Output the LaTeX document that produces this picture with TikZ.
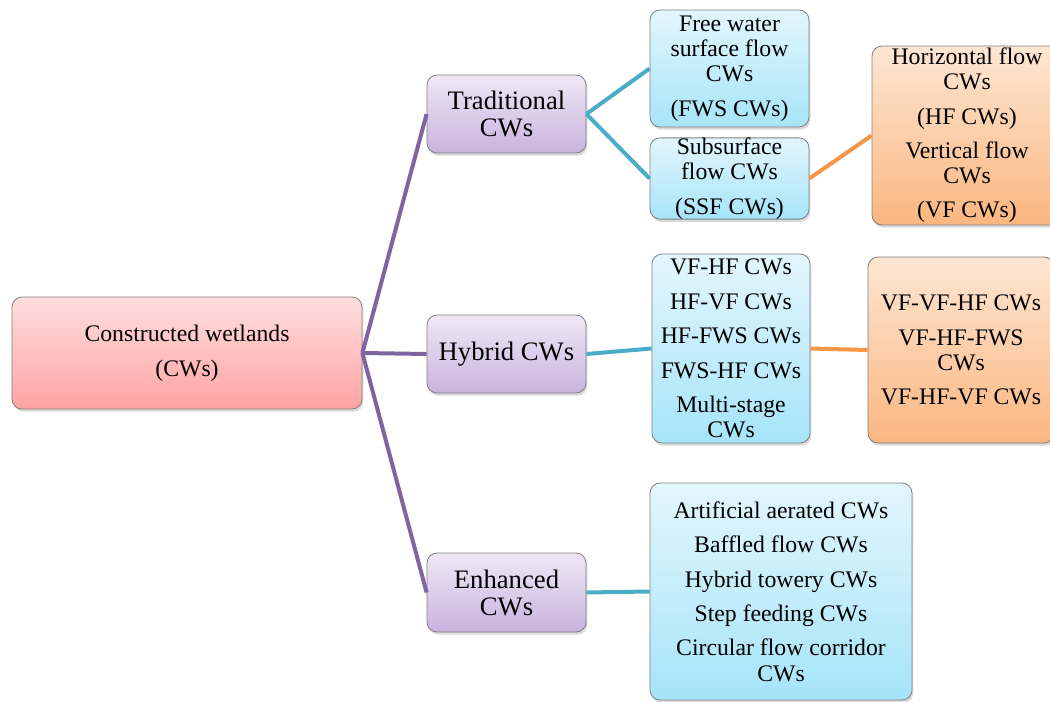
\documentclass[tikz,border=0pt]{standalone}
\usepackage{fontspec}
\setmainfont{Liberation Serif}
\usetikzlibrary{shadows}
\definecolor{purpline}{HTML}{8064A2}
\definecolor{tealline}{HTML}{4BACC6}
\definecolor{orgline}{HTML}{F79646}
\definecolor{purptop}{HTML}{EFE8F6}
\definecolor{purpbot}{HTML}{C9B3DE}
\definecolor{bluetop}{HTML}{E3F6FD}
\definecolor{bluebot}{HTML}{A6E4F9}
\definecolor{orgtop}{HTML}{FDE6D3}
\definecolor{orgbot}{HTML}{FBB680}
\tikzset{
  box/.style={draw=black!50, line width=0.6pt, rounded corners=7.5pt, inner sep=0pt,
    align=center, font=\fontsize{17.8}{18.8}\selectfont,
    drop shadow={opacity=0.3, shadow xshift=1pt, shadow yshift=-2pt}},
  redbox/.style={box, top color=red!13!white, bottom color=red!36!white},
  purpbox/.style={box, top color=purptop, bottom color=purpbot,
    font=\fontsize{20}{20.3}\selectfont},
  bluebox/.style={box, top color=bluetop, bottom color=bluebot},
  orgbox/.style={box, top color=orgtop, bottom color=orgbot},
  conn/.style={line width=3pt},
  purp/.style={conn, draw=purpline},
  teal/.style={conn, draw=tealline},
  org/.style={conn, draw=orgline},
}
\begin{document}
\begin{tikzpicture}[x=0.75pt, y=-0.75pt]
\useasboundingbox (0,0) rectangle (1050,702);
\node[redbox, minimum width=262.5pt, minimum height=84pt] (root) at (187,353)
  {Constructed wetlands\\[7.5pt](CWs)};
\node[purpbox, minimum width=119.25pt, minimum height=58.5pt] (trad) at (506.5,114)
  {Traditional\\CWs};
\node[purpbox, minimum width=119.25pt, minimum height=58.5pt] (hyb) at (506.5,354)
  {Hybrid CWs};
\node[purpbox, minimum width=119.25pt, minimum height=59.25pt] (enh) at (506.5,592.5)
  {Enhanced\\CWs};
\node[bluebox, minimum width=119.25pt, minimum height=87.75pt] (fws) at (729.5,68.5)
  {Free water\\surface flow\\CWs\\[7pt](FWS CWs)};
\node[bluebox, minimum width=119.25pt, minimum height=59.25pt] (ssf) at (729.5,178.5)
  {Subsurface\\flow CWs\\[7pt](SSF CWs)};
\node[orgbox, minimum width=142.5pt, minimum height=134.25pt] (hfvf) at (967,135.5)
  {Horizontal flow\\CWs\\[7pt](HF CWs)\\[7pt]Vertical flow\\CWs\\[7pt](VF CWs)};
\node[bluebox, minimum width=118.5pt, minimum height=141.75pt] (hlist) at (731,348.5)
  {VF-HF CWs\\[7pt]HF-VF CWs\\[7pt]HF-FWS CWs\\[7pt]FWS-HF CWs\\[7pt]Multi-stage\\CWs};
\node[orgbox, minimum width=139.5pt, minimum height=139.5pt] (horg) at (961,350)
  {VF-VF-HF CWs\\[7pt]VF-HF-FWS\\CWs\\[7pt]VF-HF-VF CWs};
\node[bluebox, minimum width=196.5pt, minimum height=162.75pt] (elist) at (781,591.5)
  {Artificial aerated CWs\\[7pt]Baffled flow CWs\\[7pt]Hybrid towery CWs\\[7pt]Step feeding CWs\\[7pt]Circular flow corridor\\CWs};
\draw[purp] (root.east) -- (trad.west);
\draw[purp] (root.east) -- (hyb.west);
\draw[purp] (root.east) -- (enh.west);
\draw[teal] (trad.east) -- (fws.west);
\draw[teal] (trad.east) -- (ssf.west);
\draw[teal] (hyb.east) -- (hlist.west);
\draw[teal] (enh.east) -- (elist.west);
\draw[org] (ssf.east) -- (hfvf.west);
\draw[org] (hlist.east) -- (horg.west);
\end{tikzpicture}
\end{document}
